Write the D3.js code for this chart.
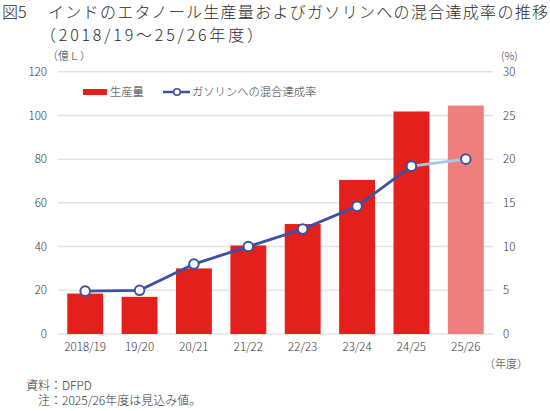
<!DOCTYPE html>
<html><head><meta charset="utf-8">
<script src="https://cdn.jsdelivr.net/npm/d3@7"></script>
<style>
html,body{margin:0;padding:0;background:#fff;}
svg{display:block;font-family:"Noto Sans CJK JP","Noto Sans",sans-serif;}
</style></head>
<body><svg id="c" width="550" height="411"></svg>
<script>
const categories = ["2018/19","19/20","20/21","21/22","22/23","23/24","24/25","25/26"];
const production = [18.5, 17.0, 30.0, 40.5, 50.3, 70.5, 101.8, 104.5];
const blendRate = [4.9, 5.0, 8.0, 10.0, 12.0, 14.6, 19.2, 20.0];
const forecastIndex = 7;
const leftTicks = [0,20,40,60,80,100,120];
const rightTicks = [0,5,10,15,20,25,30];

const svg = d3.select("#c");
const x = d3.scaleBand().domain(categories).range([58,493]).paddingInner(0.34).paddingOuter(0.17);
const yL = d3.scaleLinear().domain([0,120]).range([334,71.7]);
const yR = d3.scaleLinear().domain([0,30]).range([334,71.7]);

// title
const t = svg.append("g").attr("fill","#2a2a2a").style("font-size","16px").style("font-weight","300");
t.append("text").attr("x",2).attr("y",17.6).text("図5");
t.append("text").attr("x",48).attr("y",17.6).attr("textLength",500).attr("lengthAdjust","spacing")
  .text("インドのエタノール生産量およびガソリンへの混合達成率の推移");
t.append("text").attr("x",40).attr("y",41.3).attr("textLength",223).attr("lengthAdjust","spacing")
  .text("（2018/19～25/26年度）");

// gridlines
svg.append("g").selectAll("line").data(leftTicks).join("line")
  .attr("x1",58).attr("x2",493)
  .attr("y1",d=>yL(d)).attr("y2",d=>yL(d))
  .attr("stroke","#e3e3e3").attr("stroke-width",1.5);

const tickFont = "'Noto Sans CJK JP',sans-serif";
// left axis
const axL = svg.append("g").attr("transform","translate(47,0)")
  .call(d3.axisLeft(yL).tickValues(leftTicks).tickSize(0).tickPadding(0));
axL.select(".domain").remove();
axL.selectAll("text").attr("fill","#333").style("font-size","11.5px").style("font-family",tickFont).style("font-weight","300");

// right axis
const axR = svg.append("g").attr("transform","translate(503,0)")
  .call(d3.axisRight(yR).tickValues(rightTicks).tickSize(0).tickPadding(0));
axR.select(".domain").remove();
axR.selectAll("text").attr("fill","#333").style("font-size","11.5px").style("font-family",tickFont).style("font-weight","300");

// x axis
const axX = svg.append("g").attr("transform","translate(0,343)")
  .call(d3.axisBottom(x).tickSize(0).tickPadding(0));
axX.select(".domain").remove();
axX.selectAll("text").attr("fill","#333").style("font-size","11.5px").style("font-family",tickFont).style("font-weight","300");

// unit labels
const u = svg.append("g").attr("fill","#333").style("font-size","11px").style("font-weight","300");
u.append("text").attr("x",47).attr("y",59.5).text("（億Ｌ）");
u.append("text").attr("x",501).attr("y",59.5).text("(%)");
u.append("text").attr("x",484).attr("y",367.5).text("（年度）");

// bars
svg.append("g").selectAll("rect").data(categories).join("rect")
  .attr("x",d=>x(d)).attr("width",x.bandwidth())
  .attr("y",(d,i)=>yL(production[i]))
  .attr("height",(d,i)=>yL(0)-yL(production[i]))
  .attr("fill",(d,i)=>i===forecastIndex?"#ef7f7f":"#e3201b");

// line
const pts = categories.map((c,i)=>[x(c)+x.bandwidth()/2, yR(blendRate[i])]);
const line = d3.line();
svg.append("path").attr("d",line(pts.slice(0,forecastIndex)))
  .attr("fill","none").attr("stroke","#3d51a3").attr("stroke-width",2.8);
svg.append("path").attr("d",line(pts.slice(forecastIndex-1)))
  .attr("fill","none").attr("stroke","#a9c6e6").attr("stroke-width",2.8);
svg.append("g").selectAll("circle").data(pts).join("circle")
  .attr("cx",d=>d[0]).attr("cy",d=>d[1]).attr("r",4.8)
  .attr("fill","#fff").attr("stroke","#3d51a3").attr("stroke-width",2);

// legend
const lg = svg.append("g").style("font-size","11.3px").attr("fill","#333").style("font-weight","300");
lg.append("rect").attr("x",83).attr("y",89).attr("width",24).attr("height",6).attr("fill","#e3201b");
lg.append("text").attr("x",110).attr("y",96).text("生産量");
lg.append("line").attr("x1",163).attr("x2",190).attr("y1",92).attr("y2",92).attr("stroke","#3d51a3").attr("stroke-width",2.5);
lg.append("circle").attr("cx",177).attr("cy",92).attr("r",3.3).attr("fill","#fff").attr("stroke","#3d51a3").attr("stroke-width",1.6);
lg.append("text").attr("x",192).attr("y",96).text("ガソリンへの混合達成率");

// notes
const n = svg.append("g").style("font-size","12px").attr("fill","#333").style("font-weight","300");
n.append("text").attr("x",26).attr("y",390).text("資料：DFPD");
n.append("text").attr("x",38).attr("y",405).text("注：2025/26年度は見込み値。");
</script></body></html>
